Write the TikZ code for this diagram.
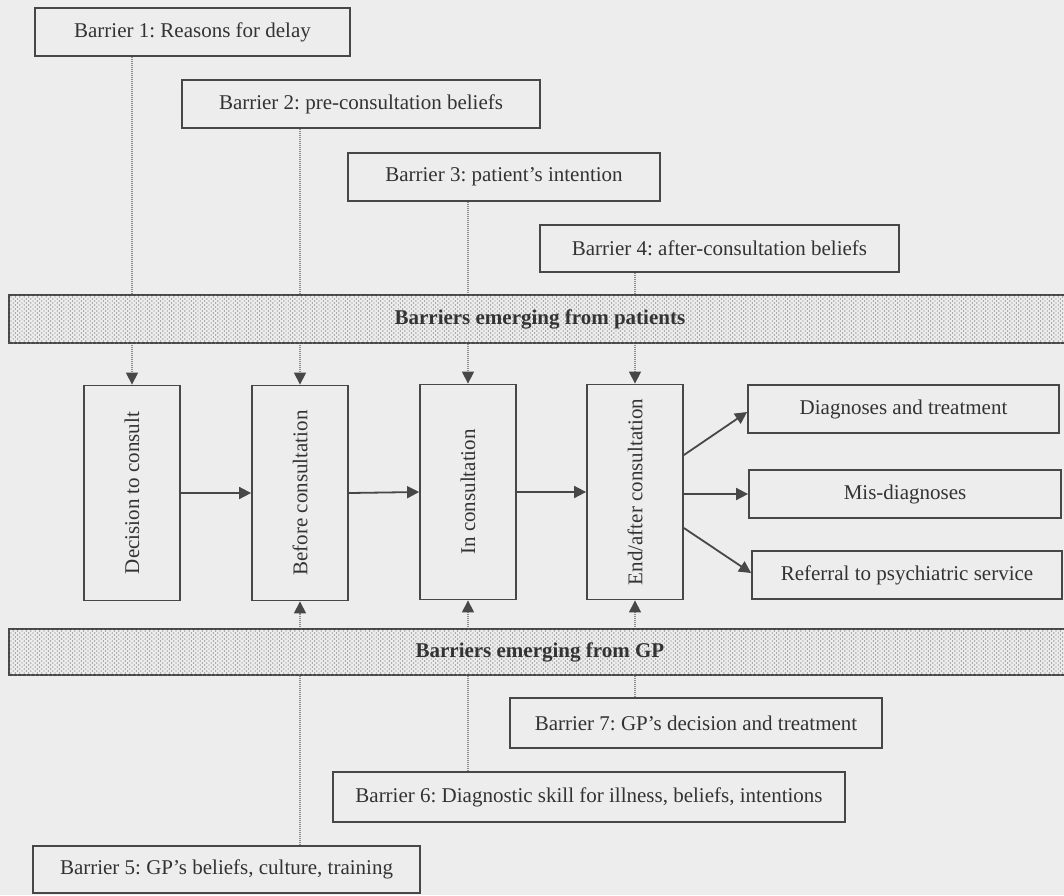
\documentclass[tikz,border=0pt]{standalone}
\usepackage{fontspec}
\setmainfont{Liberation Serif}
\usepackage{graphicx}
\usetikzlibrary{arrows.meta,patterns}
\frenchspacing

\definecolor{paper}{HTML}{EDEDED}
\definecolor{ink}{HTML}{333333}
\definecolor{frame}{HTML}{474747}
\definecolor{dotgrey}{HTML}{8C8C8C}

% staggered dot screen for the two bands
\pgfdeclarepatternformonly{banddots}{\pgfqpoint{-1pt}{-1pt}}{\pgfqpoint{5pt}{5pt}}{\pgfqpoint{4.4pt}{4pt}}{%
  \pgfpathcircle{\pgfqpoint{0pt}{0pt}}{0.7pt}%
  \pgfpathcircle{\pgfqpoint{2.2pt}{2pt}}{0.7pt}%
  \pgfusepath{fill}}

\tikzset{
  txt/.style={font=\fontsize{21}{25}\selectfont, text=ink},
  barrier/.style={txt, draw=frame, line width=1.8pt, fill=paper, rectangle, inner sep=0pt},
  stage/.style={barrier, minimum width=96pt, minimum height=215pt},
  outcome/.style={barrier, minimum width=310pt, minimum height=48pt},
  band/.style={draw=frame, line width=1.8pt, fill=paper,
    postaction={pattern=banddots, pattern color=dotgrey!90!black}},
  flow/.style={-{Triangle[length=12pt,width=12pt]}, draw=frame, line width=1.8pt},
  feed/.style={-{Triangle[length=12pt,width=12pt,color=frame]}, draw=dotgrey,
    line width=1.3pt, dash pattern=on 1pt off 1pt}
}

\begin{document}
\begin{tikzpicture}[x=1pt,y=-1pt]
\useasboundingbox[fill=paper] (0,0) rectangle (1064,895);
\clip (0,0) rectangle (1064,895);

% patient-side barriers
\node[barrier, minimum width=315pt, minimum height=48pt] (b1) at (192.5,32) {Barrier 1: Reasons for delay};
\node[barrier, minimum width=358pt, minimum height=48pt] (b2) at (361,104) {Barrier 2: pre-consultation beliefs};
\node[barrier, minimum width=312pt, minimum height=48pt] (b3) at (504,177) {Barrier 3: patient's intention};
\node[barrier, minimum width=359pt, minimum height=47pt] (b4) at (719.5,248.5) {Barrier 4: after-consultation beliefs};

% consultation stages
\node[stage] (dec) at (132,493) {\rotatebox{90}{Decision to consult}};
\node[stage] (bef) at (300,493) {\rotatebox{90}{Before consultation}};
\node[stage] (inc) at (468,492) {\rotatebox{90}{In consultation}};
\node[stage] (end) at (635,492) {\rotatebox{90}{End/after consultation}};

% outcomes
\node[outcome, minimum width=311pt] (dia) at (903.5,409) {Diagnoses and treatment};
\node[outcome, minimum width=312pt] (mis) at (905,494) {Mis-diagnoses};
\node[outcome, minimum width=310pt] (ref) at (907,575) {Referral to psychiatric service};

% GP-side barriers
\node[barrier, minimum width=372pt, minimum height=50pt] (b7) at (696,723) {Barrier 7: GP's decision and treatment};
\node[barrier, minimum width=512pt, minimum height=50pt] (b6) at (589,797) {Barrier 6: Diagnostic skill for illness, beliefs, intentions};
\node[barrier, minimum width=387pt, minimum height=47pt] (b5) at (226.5,869.5) {Barrier 5: GP's beliefs, culture, training};

% dotted influence lines
\draw[feed] (b1.south -| dec.north) -- (dec.north);
\draw[feed] (b2.south -| bef.north) -- (bef.north);
\draw[feed] (b3.south -| inc.north) -- (inc.north);
\draw[feed] (b4.south -| end.north) -- (end.north);
\draw[feed] (b5.north -| bef.south) -- (bef.south);
\draw[feed] (b6.north -| inc.south) -- (inc.south);
\draw[feed] (b7.north -| end.south) -- (end.south);

% shaded bands drawn over the dotted lines
\node[band, txt, minimum width=1062pt, minimum height=48pt, inner sep=0pt, anchor=west] (pat) at (8,319)
  {\textbf{Barriers emerging from patients}};
\node[band, txt, minimum width=1062pt, minimum height=46pt, inner sep=0pt, anchor=west] (gp) at (8,652)
  {\textbf{Barriers emerging from GP}};

% flow between stages
\draw[flow] (dec.east) -- (bef.west);
\draw[flow] (bef.east) -- (inc.west);
\draw[flow] (inc.east) -- (end.west);

% outcomes of the consultation
\coordinate (o1) at ([yshift=37pt]end.east);
\coordinate (o2) at ([yshift=-2pt]end.east);
\coordinate (o3) at ([yshift=-36pt]end.east);
\draw[flow] (o1) -- ([yshift=-3pt]dia.west);
\draw[flow] (o2) -- (mis.west);
\draw[flow] (o3) -- ([yshift=2pt]ref.west);
\end{tikzpicture}
\end{document}
